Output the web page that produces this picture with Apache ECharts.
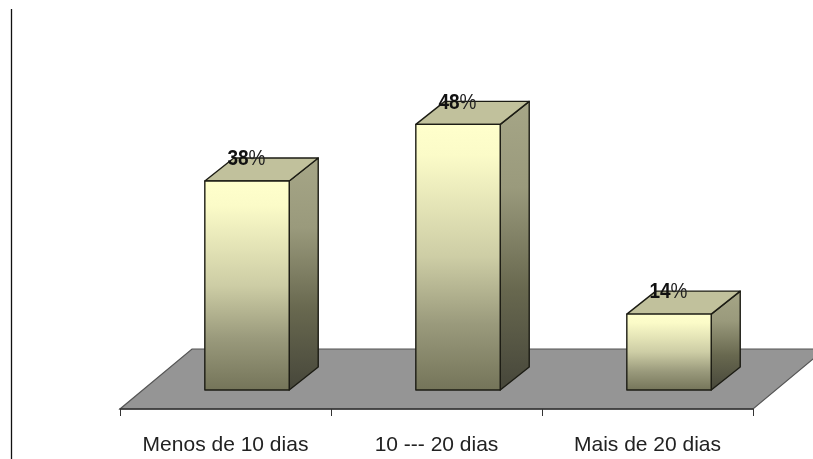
<!DOCTYPE html>
<html><head><meta charset="utf-8">
<style>html,body{margin:0;padding:0;background:#fff}#c{width:813px;height:459px}</style>
<script src="https://cdn.jsdelivr.net/npm/echarts@6/dist/echarts.min.js"></script>
</head><body><div id="c"></div>
<script>
const categories = ['Menos de 10 dias', '10 --- 20 dias', 'Mais de 20 dias'];
const values = [38, 48.3, 13.8];
const labels = ['38', '48', '14'];

const chart = echarts.init(document.getElementById('c'), null, {renderer: 'canvas'});
const DX = 29, DY = -23;

function lg(x, y, x2, y2, stops) {
  return new echarts.graphic.LinearGradient(x, y, x2, y2, stops.map((c, i) => ({offset: c[0], color: c[1]})));
}
const stroke = {stroke: '#1c1c14', lineWidth: 1.4, lineJoin: 'round'};

chart.setOption({
  animation: false,
  backgroundColor: '#fff',
  grid: {left: 120, right: 60, top: 5, bottom: 50},
  xAxis: {
    type: 'category', data: categories, z: 5,
    axisLine: {onZero: false, lineStyle: {color: '#333', width: 1.5}},
    axisTick: {show: true, length: 7, lineStyle: {color: '#333', width: 1}},
    axisLabel: {fontFamily: 'Liberation Sans', fontSize: 21, color: '#222', margin: 26, interval: 0}
  },
  yAxis: {type: 'value', min: -3.4545, max: 70, show: false},
  graphic: [{
    type: 'line', silent: true,
    shape: {x1: 11.5, y1: 9, x2: 11.5, y2: 459},
    style: {stroke: '#111', lineWidth: 1.3}
  }],
  series: [{
    type: 'custom', z: 1, clip: false, silent: true,
    data: [0],
    renderItem(params, api) {
      const base = api.coord([0, 0]);
      const band = api.size([1, 0])[0];
      const axisY = base[1] + 19;
      const left = base[0] - band / 2;
      const right = left + band * 3;
      const backY = base[1] - 41;
      const slope = 72;
      return {
        type: 'polygon', z2: 0,
        shape: {points: [[left, axisY], [right, axisY], [right + slope, backY], [left + slope, backY]]},
        style: {fill: '#959595', stroke: '#555', lineWidth: 1.2}
      };
    }
  }, {
    type: 'custom', z: 3, clip: false, silent: true,
    data: values.map((v, i) => [i, v]),
    encode: {x: 0, y: 1},
    renderItem(params, api) {
      const i = api.value(0), v = api.value(1);
      const top = api.coord([i, v]);
      const bot = api.coord([i, 0]);
      const band = api.size([1, 0])[0];
      const w = band * 0.4;
      const x0 = top[0] + band * 0.102 - w / 2, x1 = x0 + w;
      const yt = top[1], yb = bot[1];
      return {
        type: 'group',
        children: [
          {type: 'polygon', z2: 1,
            shape: {points: [[x1, yt], [x1 + DX, yt + DY], [x1 + DX, yb + DY], [x1, yb]]},
            style: Object.assign({fill: lg(0, 0, 0, 1, [[0, '#A6A687'], [0.3, '#9A9A7C'], [0.65, '#68684F'], [1, '#46463A']])}, stroke)},
          {type: 'polygon', z2: 1,
            shape: {points: [[x0, yt], [x0 + DX, yt + DY], [x1 + DX, yt + DY], [x1, yt]]},
            style: Object.assign({fill: '#C1C19C'}, stroke)},
          {type: 'rect', z2: 2,
            shape: {x: x0, y: yt, width: w, height: yb - yt},
            style: Object.assign({fill: lg(0, 0, 0, 1, [[0, '#FFFFCC'], [0.12, '#FBFBC8'], [0.5, '#CDCDA5'], [0.75, '#9A9A7C'], [1, '#747459']])}, stroke)},
          {type: 'text', z2: 5,
            x: top[0] + 21, y: yt - 22, scaleY: 1.2,
            style: {
              text: '{d|' + labels[i] + '}{p|%}',
              align: 'center', verticalAlign: 'middle',
              rich: {
                d: {fontFamily: 'Liberation Sans', fontWeight: 'bold', fontSize: 19, fill: '#111'},
                p: {fontFamily: 'Liberation Sans', fontSize: 19, fill: '#222'}
              }
            }}
        ]
      };
    }
  }]
});
</script></body></html>
